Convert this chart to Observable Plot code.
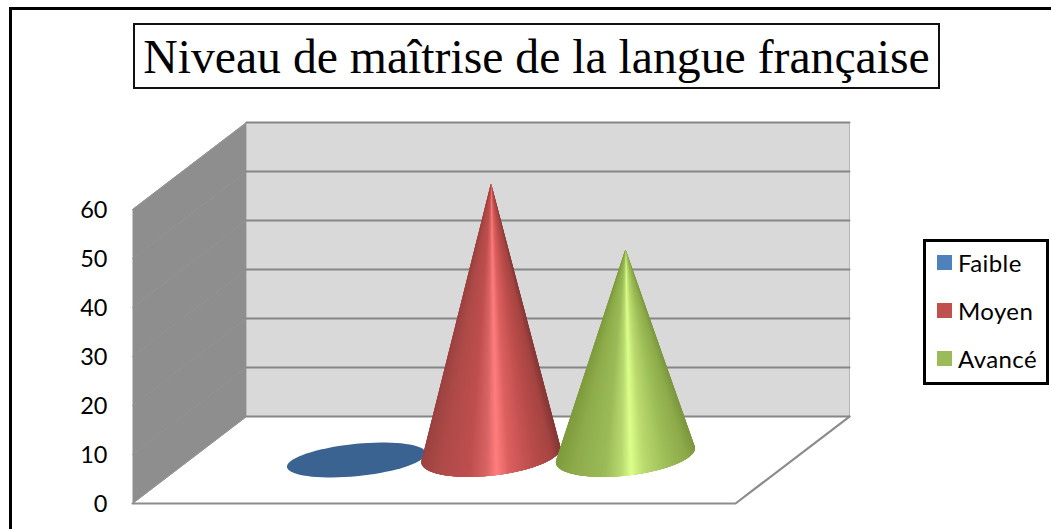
<!DOCTYPE html>
<html lang="fr">
<head>
<meta charset="utf-8">
<title>Niveau de maîtrise de la langue française</title>
<script src="https://cdn.jsdelivr.net/npm/d3@7"></script>
<script src="https://cdn.jsdelivr.net/npm/@observablehq/plot@0.6"></script>
<style>
  html, body { margin: 0; padding: 0; background: #fff; overflow: hidden; }
  #page { position: relative; width: 1051px; height: 529px; overflow: hidden; }
  #page svg { position: absolute; left: 0; top: 0; background: transparent; }
  #outer { position: absolute; left: 9px; top: 7px; width: 1060px; height: 540px; border-top: 3px solid #000; border-left: 3px solid #000; }
  #title { position: absolute; left: 133px; top: 23px; width: 803px; height: 62px; border: 2.5px solid #111; background: #fff;
    font: 47.7px "Liberation Serif", serif; line-height: 63px; text-align: center; color: #000; white-space: nowrap; }
  #legend { position: absolute; left: 923px; top: 239px; width: 120px; height: 140px; border: 3px solid #000; background: #fff;
    font: 24px Lato, sans-serif; letter-spacing: 0.4px; color: #000; }
  #legend div { position: absolute; left: 32px; line-height: 24px; white-space: nowrap; }
  #legend i { position: absolute; left: -21px; top: 4px; width: 15px; height: 15px; display: block; }
</style>
</head>
<body>
<div id="page">
  <div id="outer"></div>
  <div id="title">Niveau de maîtrise de la langue française</div>
  <div id="legend"></div>
</div>
<script>
// Data
const series = ["Faible", "Moyen", "Avancé"];
const values = [0, 56.5, 43];
const yTicks = [0, 10, 20, 30, 40, 50, 60];

// Styles
const swatch = ["#4f81bd", "#c0504d", "#9bbb59"];
const baseFill = ["#3b6392", "#a34643", "#83a040"];
const shadeStops = [0, 0.12, 0.35, 0.47, 0.54, 0.63, 0.8, 0.94, 1];
const shades = [
  ["#3b6392", "#3b6392", "#3b6392", "#3b6392", "#3b6392", "#3b6392", "#3b6392", "#3b6392", "#3b6392"],
  ["#9c4341", "#ad4a48", "#bf4f4f", "#d96464", "#ff7d7d", "#dc6060", "#bb4d4b", "#a64543", "#863836"],
  ["#7f9c3e", "#8dab4a", "#9bbb59", "#b8d86f", "#dcff8a", "#bcdc70", "#9dbd58", "#8dab4a", "#7d983f"]
];

// 3D projection in scale units: column position c, value v, depth d (0 front .. 1 back)
const depthX = 0.567, depthY = 17.75;
const proj = (c, v, d) => ({x: c + d * depthX, y: v + d * depthY});

const wallBack = [proj(0, 0, 1), proj(3, 0, 1), proj(3, 60, 1), proj(0, 60, 1)];
const wallLeft = [proj(0, 0, 0), proj(0, 0, 1), proj(0, 60, 1), proj(0, 60, 0)];

const gridBack = yTicks.flatMap(v => [0, 3].map(c => ({...proj(c, v, 1), v})));
const gridLeft = yTicks.flatMap(v => [0, 1].map(d => ({...proj(0, v, d), v})));
const floorEdge = [proj(0, 0, 0), proj(3, 0, 0), proj(3, 0, 1)];

// Base ellipse, seen in perspective: a flat disc when the value is 0, a rounder rim under a cone
const A = 0.346, over = 0.08, nSteps = 160;
const flat = {B: 3.3, K: 1.35, lift: 0};
const round = {B: 4.2, K: 1.45, lift: 1};
const steps = d3.range(0, nSteps + 1).map(i => -over + (Math.PI + 2 * over) * i / nSteps);
const rim = (c, v, t, g) => ({x: c + A * Math.cos(t), y: v + g.lift - g.B * Math.sin(t) + g.K * Math.cos(t)});

const basePts = [], facetPts = [];
series.forEach((name, i) => {
  const centre = proj(1.5 + (i - 1) * 0.669, 0, 0.5);
  const g = values[i] > 0 ? round : flat;
  d3.range(0, 73).forEach(k => {
    const t = k / 72 * 2 * Math.PI;
    basePts.push({...rim(centre.x, centre.y, t, g), name, fill: baseFill[i]});
  });
  if (values[i] > 0) {
    const shade = d3.scaleLinear().domain(shadeStops).range(shades[i]);
    const apex = {x: centre.x, y: centre.y + values[i]};
    steps.slice(0, -1).forEach((t0, k) => {
      // each wedge overlaps the next ones so that no seam shows between them
      const t1 = steps[Math.min(k + 4, nSteps)];
      const tm = (t0 + steps[k + 1]) / 2;
      const id = name + k, fill = shade((1 + Math.cos(tm)) / 2);
      [apex, rim(centre.x, centre.y, t0, g), rim(centre.x, centre.y, (t0 + t1) / 2, g), rim(centre.x, centre.y, t1, g)]
        .forEach(p => facetPts.push({...p, id, fill}));
    });
  }
});

const chart = Plot.plot({
  width: 1051,
  height: 529,
  marginLeft: 110,
  marginRight: 0,
  marginTop: 0,
  marginBottom: 0,
  style: {background: "transparent"},
  x: {domain: [0, 3], range: [132, 735], axis: null},
  y: {domain: [0, 60], range: [503, 209], axis: null},
  marks: [
    Plot.line(wallLeft, {x: "x", y: "y", fill: "#8e8e8e", stroke: "#9a9a9a", strokeWidth: 1}),
    Plot.line(gridLeft, {x: "x", y: "y", z: "v", stroke: "#949494", strokeWidth: 1}),
    Plot.line(wallBack, {x: "x", y: "y", fill: "#d9d9d9", stroke: "#b5b5b5", strokeWidth: 1}),
    Plot.line(gridBack, {x: "x", y: "y", z: "v", stroke: "#868686", strokeWidth: 2}),
    Plot.line(floorEdge, {x: "x", y: "y", stroke: "#8c8c8c", strokeWidth: 2.2}),
    Plot.line(basePts, {x: "x", y: "y", z: "name", fill: {value: "fill", scale: null}, stroke: "none"}),
    Plot.line(facetPts, {x: "x", y: "y", z: "id", fill: {value: "fill", scale: null}, stroke: "none"}),
    Plot.axisY({ticks: yTicks, anchor: "left", tickSize: 0, tickPadding: 3, dy: 1, label: null, fontSize: 23.5, fontFamily: "Lato, sans-serif", tickFormat: d => String(d), fill: "#000"})
  ]
});
document.getElementById("page").insertBefore(chart, document.getElementById("outer"));

const legend = document.getElementById("legend");
series.forEach((name, i) => {
  const row = document.createElement("div");
  row.style.top = (9 + i * 48) + "px";
  const sw = document.createElement("i");
  sw.style.background = swatch[i];
  row.appendChild(sw);
  row.appendChild(document.createTextNode(name));
  legend.appendChild(row);
});
</script>
</body>
</html>
